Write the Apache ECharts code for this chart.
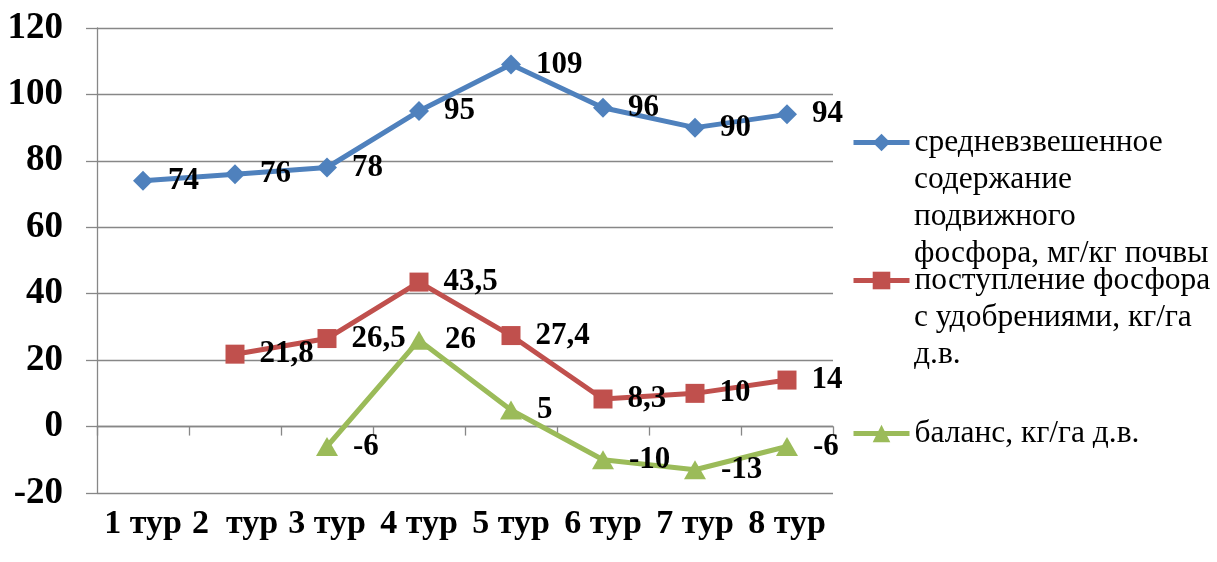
<!DOCTYPE html>
<html>
<head>
<meta charset="utf-8">
<script src="https://cdn.jsdelivr.net/npm/echarts@6/dist/echarts.min.js"></script>
<style>
  html, body { margin: 0; padding: 0; background: #fff; }
  #chart { width: 1217px; height: 562px; }
</style>
</head>
<body>
<div id="chart"></div>
<script>
// Rounds of the survey
const categories = ['1 тур', '2  тур', '3 тур', '4 тур', '5 тур', '6 тур', '7 тур', '8 тур'];

// Weighted mean content of mobile phosphorus, mg/kg soil
const phosphorusContent = [74, 76, 78, 95, 109, 96, 90, 94];
// Phosphorus input with fertilizers, kg/ha a.i.
const phosphorusInput = [null, 21.8, 26.5, 43.5, 27.4, 8.3, 10, 14];
// Phosphorus balance, kg/ha a.i.
const phosphorusBalance = [null, null, -6, 26, 5, -10, -13, -6];

// Y axis scale
const yMin = -20;
const yMax = 120;
const yStep = 20;

// Legend captions, split into lines as they are set on the right
const legendLines = [
  ['средневзвешенное', 'содержание', 'подвижного', 'фосфора, мг/кг почвы'],
  ['поступление фосфора', 'с удобрениями, кг/га', 'д.в.'],
  ['баланс, кг/га д.в.']
];
const seriesNames = legendLines.map(l => l.join(' '));

const SERIF = "'Liberation Serif', 'Times New Roman', serif";
const GRAY = '#878787';
const COLORS = ['#4F81BD', '#C0504D', '#9BBB59'];

const chart = echarts.init(document.getElementById('chart'), null, { renderer: 'canvas' });

const commaFormat = p => String(p.value).replace('.', ',');

const dataLabel = {
  show: true,
  position: 'right',
  distance: 15,
  fontFamily: SERIF,
  fontWeight: 'bold',
  fontSize: 31,
  color: '#000',
  formatter: commaFormat
};

function lineSeries(i, data, symbol, size) {
  return {
    name: seriesNames[i],
    type: 'line',
    xAxisIndex: 0,
    data: data,
    symbol: symbol,
    symbolSize: size,
    showAllSymbol: true,
    connectNulls: false,
    color: COLORS[i],
    lineStyle: { width: 5, color: COLORS[i] },
    itemStyle: { color: COLORS[i] },
    label: dataLabel,
    emphasis: { disabled: true },
    animation: false
  };
}

// One legend per series so each marker sits on the first line of its caption
const legendTops = [124, 262, 415];
const LEGEND_TEXT_X = 914;
const legends = legendTops.map((top, i) => ({
  data: [seriesNames[i]],
  left: 851,
  top: top,
  padding: 0,
  itemWidth: 56,
  itemHeight: 22,
  selectedMode: false,
  lineStyle: { width: 5 },
  formatter: () => legendLines[i][0],
  textStyle: { fontFamily: SERIF, fontSize: 31.5, color: '#000', lineHeight: 37 }
}));

// Continuation lines of the legend captions
const LINE_H = 37;
const captionRest = legendLines
  .map((lines, i) => ({ lines: lines.slice(1), top: legendTops[i] + LINE_H }))
  .filter(c => c.lines.length > 0)
  .map(c => ({
    type: 'text',
    left: LEGEND_TEXT_X,
    top: c.top,
    style: {
      text: c.lines.join('\n'),
      fontFamily: SERIF,
      fontSize: 31.5,
      fill: '#000',
      lineHeight: LINE_H
    }
  }));

chart.setOption({
  animation: false,
  backgroundColor: '#fff',
  grid: { left: 97, right: 384, top: 28, bottom: 69, containLabel: false },
  legend: legends,
  graphic: captionRest,
  xAxis: [
    {
      // axis line crossing at zero with ticks between rounds
      type: 'category',
      data: categories,
      boundaryGap: true,
      position: 'bottom',
      axisLine: { show: true, onZero: true, lineStyle: { color: GRAY, width: 1.3 } },
      axisTick: { show: true, inside: false, length: 9, interval: 0, lineStyle: { color: GRAY, width: 1.3 } },
      axisLabel: { show: false },
      splitLine: { show: false }
    },
    {
      // round captions along the bottom edge
      type: 'category',
      data: categories,
      boundaryGap: true,
      position: 'bottom',
      axisLine: { show: false, onZero: false },
      axisTick: { show: false },
      axisLabel: {
        show: true,
        interval: 0,
        margin: 14,
        fontFamily: SERIF,
        fontWeight: 'bold',
        fontSize: 34,
        color: '#000'
      },
      splitLine: { show: false }
    }
  ],
  yAxis: {
    type: 'value',
    min: yMin,
    max: yMax,
    interval: yStep,
    axisLine: { show: true, lineStyle: { color: GRAY, width: 1.3 } },
    axisTick: { show: true, inside: false, length: 11, lineStyle: { color: GRAY, width: 1.3 } },
    axisLabel: {
      margin: 34,
      fontFamily: SERIF,
      fontWeight: 'bold',
      fontSize: 37,
      color: '#000'
    },
    splitLine: { show: true, lineStyle: { color: GRAY, width: 1.3 } }
  },
  series: [
    lineSeries(0, phosphorusContent, 'diamond', 20),
    lineSeries(1, phosphorusInput, 'rect', 19),
    lineSeries(2, phosphorusBalance, 'triangle', [22, 19])
  ]
});
</script>
</body>
</html>
